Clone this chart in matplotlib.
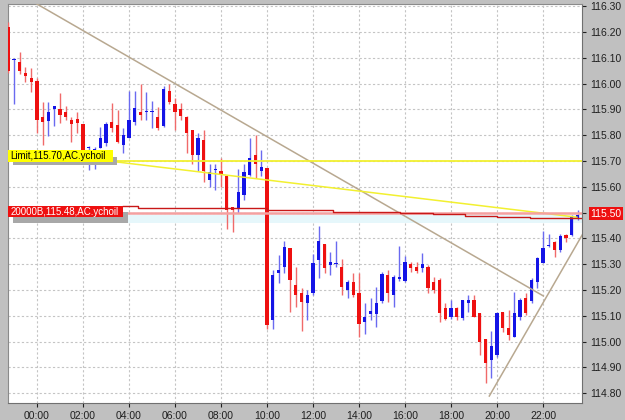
import numpy as np
import matplotlib
matplotlib.use("Agg")
import matplotlib.pyplot as plt
from matplotlib.patches import Rectangle

plt.rcParams['font.family'] = ['Liberation Sans', 'DejaVu Sans']

# 15-minute candles, index 0 = 00:00
idx = np.arange(-5, 95)
opens = [116.22, 116.09, 116.085, 116.042, 116.021, 116.01, 115.871, 115.855, 115.90, 115.90,
         115.891, 115.86, 115.862, 115.842, 115.75, 115.74, 115.752, 115.77, 115.85, 115.84,
         115.762, 115.79, 115.85, 115.891, 115.889, 115.89, 115.872, 115.837, 115.97, 115.92,
         115.90, 115.87, 115.82, 115.724, 115.78, 115.626, 115.664, 115.662, 115.642, 115.52,
         115.517, 115.568, 115.646, 115.723, 115.662, 115.672, 115.084, 115.267, 115.288, 115.362,
         115.219, 115.19, 115.148, 115.187, 115.316, 115.38, 115.297, 115.30, 115.288, 115.20,
         115.23, 115.19, 115.077, 115.107, 115.107, 115.156, 115.258, 115.182, 115.242, 115.236,
         115.30, 115.29, 115.284, 115.29, 115.232, 115.239, 115.129, 115.097, 115.129, 115.09,
         115.148, 115.161, 115.11, 115.009, 114.929, 114.948, 115.116, 115.052, 115.019, 115.094,
         115.168, 115.159, 115.23, 115.306, 115.37, 115.385, 115.355, 115.414, 115.413, 115.48]
highs = [116.24, 116.10, 116.124, 116.065, 116.062, 116.023, 115.929, 115.93, 115.915, 115.962,
         115.914, 115.87, 115.891, 115.845, 115.76, 115.755, 115.833, 115.85, 115.924, 115.898,
         115.827, 115.97, 115.97, 116.0, 115.969, 115.932, 115.91, 115.99, 116.0, 115.945,
         115.924, 115.875, 115.82, 115.81, 115.82, 115.69, 115.69, 115.71, 115.642, 115.52,
         115.668, 115.69, 115.788, 115.80, 115.742, 115.672, 115.277, 115.335, 115.391, 115.362,
         115.29, 115.206, 115.20, 115.34, 115.448, 115.38, 115.349, 115.39, 115.32, 115.24,
         115.266, 115.267, 115.15, 115.168, 115.213, 115.271, 115.278, 115.258, 115.37, 115.333,
         115.31, 115.31, 115.342, 115.297, 115.252, 115.245, 115.148, 115.161, 115.135, 115.161,
         115.18, 115.18, 115.11, 115.009, 115.04, 115.116, 115.116, 115.122, 115.193, 115.168,
         115.187, 115.245, 115.329, 115.43, 115.418, 115.391, 115.418, 115.418, 115.49, 115.51]
lows = [116.04, 115.92, 116.037, 116.006, 115.968, 115.807, 115.762, 115.798, 115.837, 115.846,
        115.859, 115.775, 115.807, 115.736, 115.665, 115.67, 115.749, 115.76, 115.814, 115.768,
        115.73, 115.788, 115.84, 115.859, 115.859, 115.827, 115.82, 115.833, 115.92, 115.82,
        115.86, 115.73, 115.69, 115.66, 115.62, 115.60, 115.588, 115.60, 115.435, 115.425,
        115.497, 115.549, 115.64, 115.633, 115.642, 115.048, 115.048, 115.226, 115.265, 115.116,
        115.135, 115.04, 115.084, 115.18, 115.246, 115.264, 115.258, 115.29, 115.18, 115.168,
        115.174, 115.019, 115.03, 115.084, 115.058, 115.148, 115.155, 115.135, 115.236, 115.232,
        115.27, 115.265, 115.27, 115.187, 115.19, 115.077, 115.084, 115.086, 115.084, 115.084,
        115.116, 115.097, 114.948, 114.84, 114.858, 114.941, 115.038, 115.006, 115.017, 115.084,
        115.103, 115.149, 115.206, 115.303, 115.368, 115.327, 115.348, 115.387, 115.409, 115.47]
closes = [116.05, 116.095, 116.05, 116.029, 116.008, 115.858, 115.85, 115.891, 115.912, 115.88,
          115.869, 115.845, 115.849, 115.742, 115.755, 115.745, 115.788, 115.845, 115.829, 115.775,
          115.80, 115.859, 115.904, 115.878, 115.893, 115.895, 115.829, 115.979, 115.927, 115.889,
          115.874, 115.808, 115.723, 115.788, 115.66, 115.658, 115.668, 115.648, 115.51, 115.51,
          115.581, 115.658, 115.71, 115.69, 115.678, 115.064, 115.258, 115.277, 115.368, 115.239,
          115.18, 115.155, 115.18, 115.306, 115.391, 115.284, 115.31, 115.302, 115.21, 115.23,
          115.18, 115.068, 115.097, 115.12, 115.151, 115.263, 115.187, 115.249, 115.249, 115.31,
          115.284, 115.275, 115.30, 115.207, 115.20, 115.11, 115.086, 115.129, 115.097, 115.161,
          115.161, 115.097, 115.0, 114.916, 114.981, 115.11, 115.052, 115.026, 115.11, 115.161,
          115.11, 115.239, 115.323, 115.362, 115.372, 115.355, 115.411, 115.40, 115.482, 115.49]

tick_pos = list(range(0, 89, 8))
tick_labels = ["00:00", "02:00", "04:00", "06:00", "08:00", "10:00",
               "12:00", "14:00", "16:00", "18:00", "20:00", "22:00"]
price_ticks = [114.80, 114.90, 115.00, 115.10, 115.20, 115.30, 115.40,
               115.50, 115.60, 115.70, 115.80, 115.90, 116.00, 116.10, 116.20, 116.30]

# trend lines (index, price)
trend_down_x = [-0.05, 88.05]
trend_down_y = [116.309, 115.177]
trend_up_x = [78.66, 95.5]
trend_up_y = [114.789, 115.44]
limit_price = 115.70
limit_slope_x = [13.6, 93.9]
limit_slope_y = [115.697, 115.482]
last_price = 115.50
order_step_x = [15.0, 17.6, 28.3, 40.0, 51.5, 63.1, 68.9, 74.4, 80.0, 85.7, 93.2, 94.8]
order_step_y = [115.525, 115.519, 115.516, 115.51, 115.503, 115.497, 115.494, 115.488,
                115.482, 115.478, 115.478, 115.478]

W, H = 625, 420
fig = plt.figure(figsize=(W / 100, H / 100), dpi=100, facecolor='#c0c0c0')
L, R, T, B = 7.5, 582, 4, 403
ax = fig.add_axes([L / W, 1 - B / H, (R - L) / W, (B - T) / H], facecolor='white')

xmin, xmax = -5.13, 94.78
ymin, ymax = 114.762, 116.3085
ax.set_xlim(xmin, xmax)
ax.set_ylim(ymin, ymax)

ax.grid(True, color='#c4c4c4', linestyle=(0, (2, 2)), linewidth=0.8, zorder=0)
ax.set_axisbelow(True)

# light cyan band & label shadows
ax.fill_between([15.8, xmax], 115.458, 115.489, color='#e6f7fb', lw=0, zorder=1)

# candles
o = np.array(opens); h = np.array(highs); l = np.array(lows); c = np.array(closes)
up = c >= o
body_col = np.where(up, '#1414e6', '#ee1010')
wick_col = np.where(up, '#6a6af0', '#f06a6a')
ax.vlines(idx, l, h, colors=wick_col, linewidth=1.0, zorder=3)
bot = np.minimum(o, c)
hgt = np.maximum(np.abs(c - o), 0.005)
ax.bar(idx, hgt, bottom=bot, width=0.55, color=body_col, linewidth=0, zorder=4)

# lines
ax.plot(trend_down_x, trend_down_y, color='#b8a890', lw=1.1, zorder=5, clip_on=True)
ax.plot(trend_up_x, trend_up_y, color='#b8a890', lw=1.1, zorder=5, clip_on=True)
ax.plot([13.6, xmax], [limit_price, limit_price], color='#f2f030', lw=1.3, zorder=5)
ax.plot(limit_slope_x, limit_slope_y, color='#f2f030', lw=1.1, zorder=5)
ax.plot([15.8, xmax], [last_price, last_price], color='#f4a0a0', lw=1.8, zorder=5)
ax.step(order_step_x, order_step_y, where='post', color='#c81818', lw=1.0, zorder=6)

# labels with shadows
ax.add_patch(Rectangle((-4.17, 115.685), 18.07, 0.031, color='#a8a8a8', lw=0, zorder=7))
ax.add_patch(Rectangle((xmin, 115.695), 13.2 - xmin, 0.047, color='#ffff00', lw=0, zorder=8))
ax.text(-4.65, 115.7185, "Limit,115.70,AC.ychoil", fontsize=7, color='black',
        va='center', ha='left', zorder=9)
ax.add_patch(Rectangle((-4.17, 115.46), 19.97, 0.043, color='#a8a8a8', lw=0, zorder=7))
ax.add_patch(Rectangle((xmin, 115.482), 14.96 - xmin, 0.044, color='#ee1010', lw=0, zorder=8))
ax.text(-4.65, 115.504, "20000B,115.48,AC.ychoil", fontsize=7, color='white',
        va='center', ha='left', zorder=9)

# axes
ax.yaxis.tick_right()
ax.set_yticks(price_ticks)
ax.set_yticklabels([f"{p:.2f}" for p in price_ticks])
ax.set_xticks(tick_pos)
ax.set_xticklabels(tick_labels)
ax.tick_params(axis='both', labelsize=7.5, colors='#202020', length=3, width=0.8, pad=2.5)
ax.tick_params(axis='y', pad=3)
for lab in ax.get_yticklabels():
    if lab.get_text() == "115.50":
        lab.set_color('white')
        lab.set_bbox(dict(boxstyle='square,pad=0.15', fc='#ee1010', ec='none'))

for s in ['left', 'top']:
    ax.spines[s].set_color('#8a8a8a')
for s in ['right', 'bottom']:
    ax.spines[s].set_color('#707070')

fig.savefig("out.png", dpi=100, facecolor=fig.get_facecolor())
